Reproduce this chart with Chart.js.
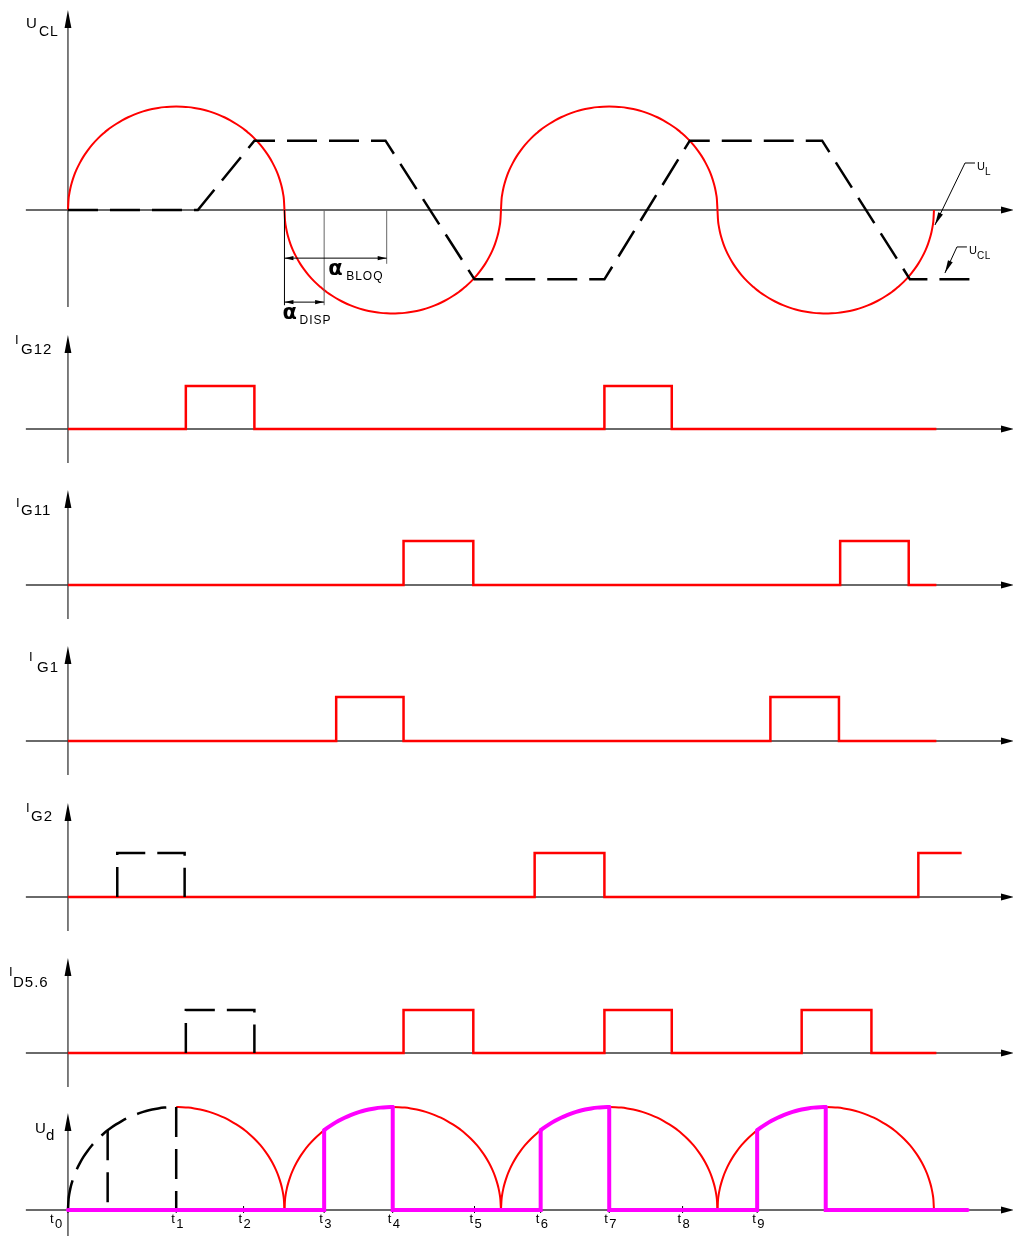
<!DOCTYPE html>
<html>
<head>
<meta charset="utf-8">
<script src="https://cdn.jsdelivr.net/npm/chart.js@4/dist/chart.umd.min.js"></script>
<style>
  html, body { margin: 0; padding: 0; background: #fff; }
  #wrap { position: relative; width: 1013px; height: 1236px; overflow: hidden; }
  #wrap canvas { position: absolute; left: 0; }
</style>
</head>
<body>
<div id="wrap"></div>
<script>
// time axis in electrical degrees, 180 = one half period of U_CL
const halfWaves = [0, 180, 360, 540];
// one rising quarter of the arc (offset deg -> fraction of peak)
const arcOffsets = [0, 0.5, 1, 2, 3, 5, 7, 10, 13, 16, 20, 25, 30, 33, 35, 40, 45, 50, 55, 60, 65, 70, 75, 80, 85, 90];
const arcHeights = [0, 0.105, 0.149, 0.210, 0.256, 0.329, 0.387, 0.458, 0.518, 0.569, 0.629, 0.692, 0.745, 0.774,
                    0.792, 0.831, 0.866, 0.896, 0.921, 0.943, 0.961, 0.975, 0.986, 0.994, 0.998, 1];

// U_L, dashed trapezoid
const ulX = [0, 108, 155, 264, 338, 446, 517, 627, 700, 758];
const ulY = [0, 0, 0.67, 0.67, -0.67, -0.67, 0.67, 0.67, -0.67, -0.67];

// current pulses [on, off]
const pulsesG12 = [[98, 155], [446, 502]];
const pulsesG11 = [[279, 337], [642, 699]];
const pulsesG1 = [[223, 279], [584, 641]];
const pulsesG2 = [[388, 446], [707, 743]];
const pulsesD56 = [[279, 337], [446, 502], [610, 668]];
const dashedG2 = [[41, 97]];
const dashedD56 = [[98, 155]];
const traceEnd = 722;
const g2End = 743;

// U_d
const udConduct = [[213, 270], [393, 450], [573, 630]];
const udDashedLines = [33, 90];
const udEnd = 748;

const tickNames = ['0', '1', '2', '3', '4', '5', '6', '7', '8', '9'];
const tickDeg = [0, 90, 146, 213, 270, 338, 393, 450, 511, 573];

const alphaDisp = [180, 213];
const alphaBloq = [180, 265];

const DEG_MIN = -56.5, DEG_MAX = 785.7;
const RED = '#ff0000', MAG = '#ff00ff';
const FONT = '"Liberation Sans", Arial, sans-serif';

// ---------- helpers ----------
const fullOff = arcOffsets.concat(arcOffsets.slice(0, -1).reverse().map(o => 180 - o));
const fullH = arcHeights.concat(arcHeights.slice(0, -1).reverse());

function arcPoints(start, sign, from = 0, to = 180) {
  const pts = [];
  fullOff.forEach((o, i) => {
    if (o >= from && o <= to) pts.push({ x: start + o, y: sign * fullH[i] });
  });
  return pts;
}
function arcAt(off) { return fullH[fullOff.indexOf(off)]; }

function pulseTrace(pulses, end) {
  const pts = [{ x: 0, y: 0 }];
  pulses.forEach(([a, b]) => {
    pts.push({ x: a, y: 0 }, { x: a, y: 1 });
    if (b < end) pts.push({ x: b, y: 1 }, { x: b, y: 0 });
    else pts.push({ x: end, y: 1 });
  });
  if (pts[pts.length - 1].y === 0) pts.push({ x: end, y: 0 });
  return pts;
}
function dashedBoxes(pulses) {
  const pts = [];
  pulses.forEach(([a, b]) => pts.push({ x: a, y: 0 }, { x: a, y: 1 }, { x: b, y: 1 }, { x: b, y: 0 }));
  return pts;
}

function redLine(data, width) {
  return { data, borderColor: RED, borderWidth: width || 2.5, showLine: true, pointRadius: 0, tension: 0, clip: false };
}
function redArc(data) {
  return { data, borderColor: RED, borderWidth: 2, showLine: true, pointRadius: 0, cubicInterpolationMode: 'monotone', clip: false };
}
function blackDash(data, curved) {
  const ds = { data, borderColor: '#000', borderWidth: 2.5, borderDash: [30, 12], showLine: true, pointRadius: 0, tension: 0, clip: false };
  if (curved) ds.cubicInterpolationMode = 'monotone';
  return ds;
}

function arrowHead(ctx, tx, ty, fx, fy, len, half) {
  const a = Math.atan2(ty - fy, tx - fx);
  const bx = tx - len * Math.cos(a), by = ty - len * Math.sin(a);
  const nx = -Math.sin(a) * half, ny = Math.cos(a) * half;
  ctx.beginPath();
  ctx.moveTo(tx, ty); ctx.lineTo(bx + nx, by + ny); ctx.lineTo(bx - nx, by - ny);
  ctx.closePath(); ctx.fill();
}
function text(ctx, s, x, y, size, bold, family) {
  ctx.font = (bold ? 'bold ' : '') + size + 'px ' + (family || FONT);
  ctx.fillText(s, x, y);
}

// ---------- datasets per panel ----------
const uclPts = [];
halfWaves.forEach((s, k) => {
  const p = arcPoints(s, k % 2 ? -1 : 1);
  uclPts.push(...(k ? p.slice(1) : p));
});
const ulPts = ulX.map((x, i) => ({ x, y: ulY[i] }));

const magSteps = [{ x: 0, y: 0 }];
const magArcs = [];
udConduct.forEach(([on, off]) => {
  const s = Math.floor(on / 180) * 180;
  magSteps.push({ x: on, y: 0 }, { x: on, y: arcAt(on - s) }, { x: (on + off) / 2, y: null },
                { x: off, y: arcAt(off - s) }, { x: off, y: 0 });
  magArcs.push(arcPoints(s, 1, on - s, off - s));
});
magSteps.push({ x: udEnd, y: 0 });

const udDatasets = [
  { data: magSteps, borderColor: MAG, borderWidth: 4, showLine: true, pointRadius: 0, tension: 0, spanGaps: false, clip: false, borderCapStyle: 'round' },
  ...magArcs.map(d => ({ data: d, borderColor: MAG, borderWidth: 4, showLine: true, pointRadius: 0, cubicInterpolationMode: 'monotone', clip: false, borderCapStyle: 'round' })),
  blackDash(arcPoints(0, 1, 0, 90), true),
  ...udDashedLines.map(d => blackDash([{ x: d, y: arcAt(d) }, { x: d, y: 0 }])),
  redArc(arcPoints(0, 1, 90, 180)),
  ...halfWaves.slice(1).map(s => redArc(arcPoints(s, 1)))
];

// ---------- extra drawings ----------
function drawUclNotes(chart) {
  const ctx = chart.ctx;
  const X = v => chart.scales.x.getPixelForValue(v), Y = v => chart.scales.y.getPixelForValue(v);
  ctx.save();
  ctx.lineWidth = 1;
  ctx.fillStyle = '#000';
  // extension lines
  [[180, -0.92, '#000'], [213, -0.92, '#666'], [265, -0.52, '#666']].forEach(([d, v, c]) => {
    ctx.strokeStyle = c;
    ctx.beginPath(); ctx.moveTo(X(d), Y(0)); ctx.lineTo(X(d), Y(v)); ctx.stroke();
  });
  // dimension lines
  ctx.strokeStyle = '#000';
  [[alphaBloq, -0.465], [alphaDisp, -0.89]].forEach(([[a, b], v]) => {
    const y = Y(v);
    ctx.beginPath(); ctx.moveTo(X(a), y); ctx.lineTo(X(b), y); ctx.stroke();
    arrowHead(ctx, X(a), y, X(a) + 10, y, 9, 2.2);
    arrowHead(ctx, X(b), y, X(b) - 10, y, 9, 2.2);
  });
  const yb = Y(-0.465), yd = Y(-0.89);
  ctx.letterSpacing = '0px';
  text(ctx, '\u03b1', X(213) + 4, yb + 17, 21, true, '"DejaVu Sans", sans-serif');
  ctx.letterSpacing = '1px';
  text(ctx, 'BLOQ', X(213) + 22, yb + 22, 12);
  ctx.letterSpacing = '0px';
  text(ctx, '\u03b1', X(180) - 2, yd + 17, 21, true, '"DejaVu Sans", sans-serif');
  ctx.letterSpacing = '1px';
  text(ctx, 'DISP', X(180) + 15, yd + 22, 12);

  // leaders U_L and U_CL
  const leaders = [
    { tip: [720.8, -0.145], elbow: [745.8, 0.454], end: 754.1, main: 'U', sub: 'L' },
    { tip: [729.1, -0.609], elbow: [739.1, -0.357], end: 747.4, main: 'U', sub: 'CL' }
  ];
  leaders.forEach(l => {
    const tx = X(l.tip[0]), ty = Y(l.tip[1]), ex = X(l.elbow[0]), ey = Y(l.elbow[1]);
    ctx.beginPath(); ctx.moveTo(tx, ty); ctx.lineTo(ex, ey); ctx.lineTo(X(l.end), ey); ctx.stroke();
    arrowHead(ctx, tx, ty, ex, ey, 13, 2.6);
    ctx.letterSpacing = '0.5px';
    text(ctx, l.main, X(l.end) + 2, ey + 7, 11);
    text(ctx, l.sub, X(l.end) + 10, ey + 12, 10);
  });
  ctx.restore();
}

function drawUdTicks(chart, stage) {
  const ctx = chart.ctx;
  const X = v => chart.scales.x.getPixelForValue(v), y0 = chart.scales.y.getPixelForValue(0);
  ctx.save();
  if (stage === 'before') {
    ctx.strokeStyle = '#000'; ctx.lineWidth = 1;
    tickDeg.forEach(d => { ctx.beginPath(); ctx.moveTo(X(d), y0 - 4); ctx.lineTo(X(d), y0 + 3); ctx.stroke(); });
  } else {
    ctx.fillStyle = '#000';
    ctx.letterSpacing = '0px';
    tickDeg.forEach((d, i) => {
      // t0 sits left of the vertical axis
      const shift = i === 0 ? -13 : 0;
      text(ctx, 't', X(d) - 5 + shift, y0 + 13, 13);
      text(ctx, tickNames[i], X(d) + shift, y0 + 18, 13);
    });
  }
  ctx.restore();
}

// ---------- axes plugin ----------
const panelAxes = {
  id: 'panelAxes',
  beforeDatasetsDraw(chart, args, opts) {
    const ctx = chart.ctx;
    const x0 = chart.scales.x.getPixelForValue(0), y0 = chart.scales.y.getPixelForValue(0);
    const xl = chart.scales.x.getPixelForValue(-35), xr = chart.chartArea.right + 1;
    const tip = y0 - opts.above;
    ctx.save();
    ctx.strokeStyle = '#3a3a3a'; ctx.fillStyle = '#000'; ctx.lineWidth = 1.3;
    ctx.beginPath();
    ctx.moveTo(xl, y0); ctx.lineTo(xr - 12, y0);
    ctx.moveTo(x0, y0 + opts.below); ctx.lineTo(x0, tip + 12);
    ctx.stroke();
    arrowHead(ctx, xr, y0, xl, y0, 13, 3.6);
    arrowHead(ctx, x0, tip, x0, y0, 18, 3.4);
    ctx.restore();
    if (opts.extra) opts.extra(chart, 'before');
  },
  afterDatasetsDraw(chart, args, opts) {
    const ctx = chart.ctx;
    const y0 = chart.scales.y.getPixelForValue(0);
    const tip = y0 - opts.above;
    const L = opts.label;
    ctx.save();
    ctx.fillStyle = '#000';
    ctx.letterSpacing = '1px';
    text(ctx, L.main, L.mx, tip + L.my, L.mf);
    text(ctx, L.sub, L.sx, tip + L.sy, L.sf);
    ctx.restore();
    if (opts.after) opts.after(chart, 'after');
  }
};

// ---------- panels ----------
const panels = [
  { top: 0, height: 330, base: 210, unit: 103.5, above: 200, below: 97,
    label: { main: 'U', sub: 'CL', mx: 26, my: 18, sx: 39, sy: 26, mf: 15, sf: 14 },
    datasets: [blackDash(ulPts), redArc(uclPts)], after: drawUclNotes },
  { top: 330, height: 150, base: 99, unit: 43, above: 94, below: 34,
    label: { main: 'I', sub: 'G12', mx: 15, my: 9, sx: 21, sy: 19, mf: 13, sf: 15 },
    datasets: [redLine(pulseTrace(pulsesG12, traceEnd))] },
  { top: 480, height: 155, base: 105, unit: 44, above: 95, below: 34,
    label: { main: 'I', sub: 'G11', mx: 16, my: 17, sx: 21, sy: 25, mf: 13, sf: 15 },
    datasets: [redLine(pulseTrace(pulsesG11, traceEnd))] },
  { top: 635, height: 155, base: 106, unit: 44, above: 95, below: 34,
    label: { main: 'I', sub: 'G1', mx: 29, my: 15, sx: 37, sy: 26, mf: 13, sf: 15 },
    datasets: [redLine(pulseTrace(pulsesG1, traceEnd))] },
  { top: 790, height: 155, base: 107, unit: 44, above: 94, below: 34,
    label: { main: 'I', sub: 'G2', mx: 26, my: 9, sx: 31, sy: 18, mf: 13, sf: 15 },
    datasets: [blackDash(dashedBoxes(dashedG2)), redLine(pulseTrace(pulsesG2, g2End))] },
  { top: 945, height: 150, base: 108, unit: 43, above: 95, below: 34,
    label: { main: 'I', sub: 'D5.6', mx: 9, my: 18, sx: 13, sy: 29, mf: 13, sf: 15 },
    datasets: [blackDash(dashedBoxes(dashedD56)), redLine(pulseTrace(pulsesD56, traceEnd))] },
  { top: 1095, height: 141, base: 115, unit: 103, above: 97, below: 30,
    label: { main: 'U', sub: 'd', mx: 35, my: 20, sx: 46, sy: 27, mf: 15, sf: 15 },
    datasets: udDatasets, extra: drawUdTicks, after: drawUdTicks }
];

const wrap = document.getElementById('wrap');
panels.forEach(p => {
  const canvas = document.createElement('canvas');
  canvas.width = 1013; canvas.height = p.height;
  canvas.style.top = p.top + 'px';
  wrap.appendChild(canvas);
  new Chart(canvas, {
    type: 'scatter',
    data: { datasets: p.datasets },
    options: {
      responsive: false,
      devicePixelRatio: 1,
      animation: false,
      events: [],
      layout: { padding: 0 },
      scales: {
        x: { type: 'linear', min: DEG_MIN, max: DEG_MAX, display: false },
        y: { type: 'linear', min: -(p.height - p.base) / p.unit, max: p.base / p.unit, display: false }
      },
      plugins: {
        legend: { display: false },
        tooltip: { enabled: false },
        panelAxes: { above: p.above, below: p.below, label: p.label, extra: p.extra, after: p.after }
      }
    },
    plugins: [panelAxes]
  });
});
</script>
</body>
</html>
